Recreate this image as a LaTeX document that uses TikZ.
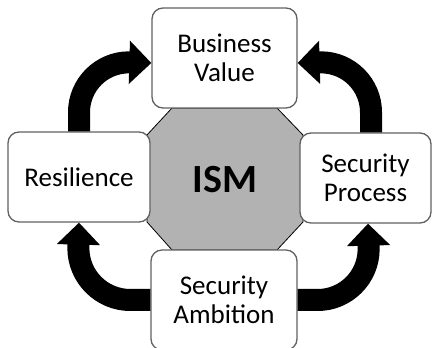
\documentclass[tikz,border=0pt]{standalone}
\usepackage{fontspec}
\setmainfont{Carlito}
\usetikzlibrary{arrows.meta}

\begin{document}
\begin{tikzpicture}[x=1pt, y=1pt,
	box/.style={draw=black!62, line width=1.3pt, rounded corners=11pt, fill=white, align=center, inner sep=0pt, font=\fontsize{27}{29}\selectfont},
	flow/.style={line width=22pt, -{Triangle[length=22pt, width=42pt]}}]
	\useasboundingbox (0,0) rectangle (432,348);
	\draw[fill=black!30, line width=0.8pt] (172,240) -- (277,240) -- (303,213) -- (303,126) -- (277,98) -- (172,98) -- (147,126) -- (147,213) -- cycle;
	\node (ism) at (225,168) {\fontsize{40}{44}\selectfont\bfseries ISM};
	\node[box, minimum width=145pt, minimum height=100pt] (bv) at (224.5,290) {Business\\Value};
	\node[box, minimum width=142pt, minimum height=90pt] (res) at (79,171) {Resilience};
	\node[box, minimum width=131pt, minimum height=90pt] (sp) at (365.5,170) {Security\\Process};
	\node[box, minimum width=146pt, minimum height=100pt] (sa) at (224,48) {Security\\Ambition};
	\draw[flow] (res.north) -- ++(0,19) arc[start angle=180, end angle=90, radius=50] -- ([yshift=-5pt]bv.west);
	\draw[flow] ([xshift=5.5pt]sp.north) -- ++(0,20) arc[start angle=0, end angle=90, radius=50] -- ([yshift=-5pt]bv.east);
	\draw[flow] (sa.west) -- ++(-20,0) arc[start angle=270, end angle=180, radius=52] -- (res.south);
	\draw[flow] (sa.east) -- ++(20,0) arc[start angle=270, end angle=360, radius=51] -- ([xshift=2.5pt]sp.south);
	%\node at (225,20) {};
\end{tikzpicture}
\end{document}
